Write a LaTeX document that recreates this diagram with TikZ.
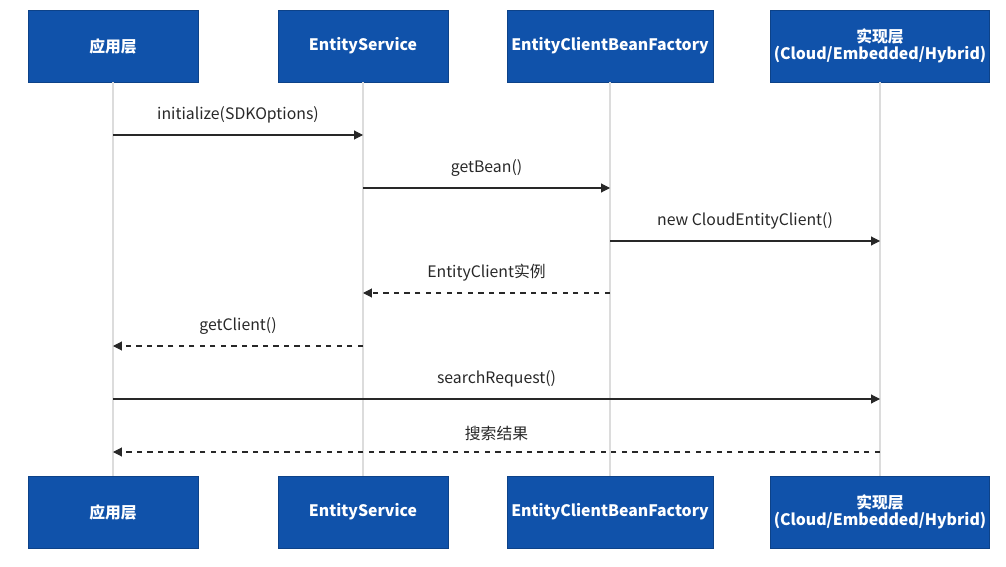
\documentclass[tikz,border=0pt]{standalone}
\usepackage{fontspec}
\setmainfont{Noto Sans CJK SC}
\usetikzlibrary{positioning,arrows.meta}
\definecolor{actorblue}{RGB}{16,82,170}
\definecolor{msgtext}{RGB}{40,40,40}
\definecolor{lifegrey}{RGB}{220,220,220}

\begin{document}
\begin{tikzpicture}[x=0.02cm,y=-0.02cm]
\tikzstyle{actor}=[rectangle, draw=actorblue!80!black, fill=actorblue, text=white, font=\fontsize{9}{10}\selectfont\bfseries, minimum height=1.44cm, inner sep=1pt, align=center]
\tikzstyle{life}=[draw=lifegrey, line width=0.8pt]
\tikzstyle{call}=[-{Triangle[length=5pt,width=5pt]}, draw=msgtext, line width=0.6pt]
\tikzstyle{reply}=[call, dashed]
\tikzstyle{msg}=[text=msgtext, font=\fontsize{9}{10}\selectfont]
\useasboundingbox (0,0) rectangle (1006,567);
	% participants
	\node[actor, minimum width=3.4cm] (app_t) at (113,46) {应用层};
	\node[actor, minimum width=3.4cm] (svc_t) at (363,46) {EntityService};
	\node[actor, minimum width=4.12cm] (fac_t) at (610,46) {EntityClientBeanFactory};
	\node[actor, minimum width=4.38cm] (impl_t) at (880,46) {实现层\\(Cloud/Embedded/Hybrid)};
	\node[actor, minimum width=3.4cm] (app_b) at (113,512) {应用层};
	\node[actor, minimum width=3.4cm] (svc_b) at (363,512) {EntityService};
	\node[actor, minimum width=4.12cm] (fac_b) at (610,512) {EntityClientBeanFactory};
	\node[actor, minimum width=4.38cm] (impl_b) at (880,512) {实现层\\(Cloud/Embedded/Hybrid)};

	\foreach \p in {app,svc,fac,impl}
		\draw[life] (\p_t.south) -- (\p_b.north);

	% message points
	\foreach \y/\i in {135/1,188/2,241/3,293/4,346/5,399/6,452/7} {
		\coordinate (app\i) at (113,\y);
		\coordinate (svc\i) at (363,\y);
		\coordinate (fac\i) at (610,\y);
		\coordinate (impl\i) at (880,\y);
	}

	\path
		(app1) edge [call] node[msg, above=3pt] {initialize(SDKOptions)} (svc1)
		(svc2) edge [call] node[msg, above=3pt] {getBean()} (fac2)
		(fac3) edge [call] node[msg, above=3pt] {new CloudEntityClient()} (impl3)
		(fac4) edge [reply] node[msg, above=3pt] {EntityClient实例} (svc4)
		(svc5) edge [reply] node[msg, above=3pt] {getClient()} (app5)
		(app6) edge [call] node[msg, above=3pt] {searchRequest()} (impl6)
		(impl7) edge [reply] node[msg, above=3pt] {搜索结果} (app7);
\end{tikzpicture}
\end{document}
